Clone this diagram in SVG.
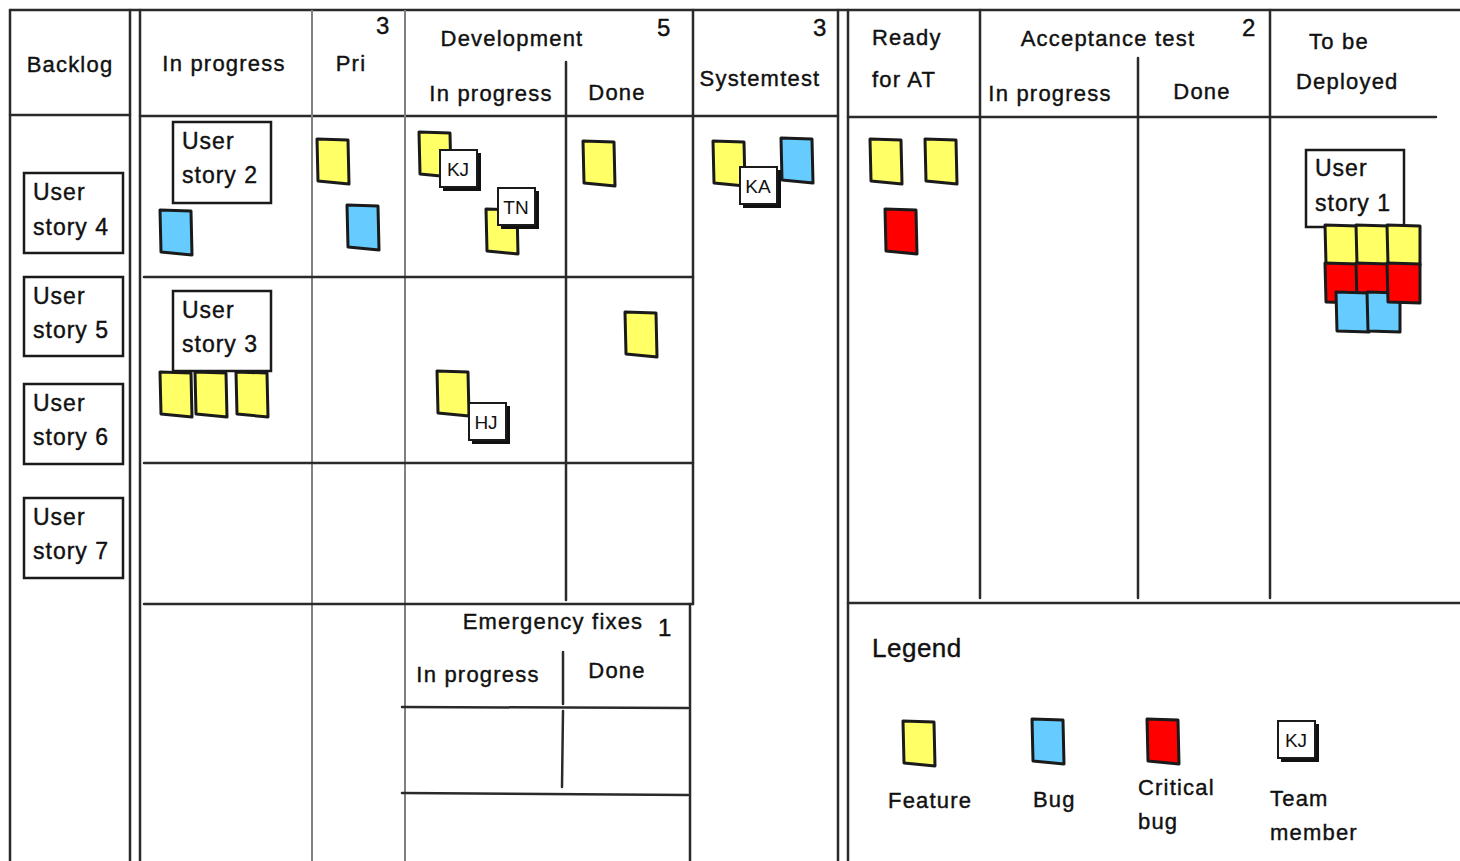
<svg xmlns="http://www.w3.org/2000/svg" xmlns:xlink="http://www.w3.org/1999/xlink" width="1460" height="861" viewBox="0 0 1460 861">
<style>
.bg{fill:#fff}
.ln{stroke:#2a2a2a;stroke-width:2.5;fill:none;stroke-linecap:round}
.lg{stroke:#808080;stroke-width:2;fill:none}
.card{fill:#fff;stroke:#1a1a1a;stroke-width:2.5}
.y{fill:#ffff66;stroke:#1a1a1a;stroke-width:3;stroke-linejoin:round}
.b{fill:#66ccff;stroke:#1a1a1a;stroke-width:3;stroke-linejoin:round}
.r{fill:#ff0000;stroke:#1a1a1a;stroke-width:3;stroke-linejoin:round}
.sh{fill:#111}
.tw{fill:#fff;stroke:#1a1a1a;stroke-width:2}
.t{font-family:"Liberation Sans",Arial,sans-serif;font-size:22px;letter-spacing:1.2px;fill:#111;stroke:#111;stroke-width:0.4}
.c{font-family:"Liberation Sans",Arial,sans-serif;font-size:23px;letter-spacing:1px;fill:#111;stroke:#111;stroke-width:0.4}
.m{text-anchor:middle}
.n{font-family:"Liberation Sans",Arial,sans-serif;font-size:24px;fill:#111;stroke:#111;stroke-width:0.4}
.tg{font-family:"Liberation Sans",Arial,sans-serif;font-size:19px;fill:#111;text-anchor:middle}
</style>
<defs>
<path id="note" d="M0,0 L31,1 L32,45 L1,42 Z"/>
<path id="noted" d="M0,0 L33,1 L33,40 L1,39 Z"/>
<g id="tag"><rect class="sh" x="3" y="3" width="38" height="38"/><rect class="tw" x="0" y="0" width="37" height="37"/></g>
</defs>
<rect class="bg" width="1460" height="861"/>

<g id="board-lines">
<line class="ln" x1="10" y1="10" x2="1460" y2="10"/>
<line class="ln" x1="10" y1="10" x2="10" y2="861"/>
<line class="ln" x1="130" y1="10" x2="130" y2="861"/>
<line class="ln" x1="140" y1="10" x2="140" y2="861"/>
<line class="ln" x1="10" y1="115" x2="130" y2="115"/>
<line class="ln" x1="140" y1="116" x2="838" y2="116"/>
<line class="lg" x1="312" y1="10" x2="312" y2="861"/>
<line class="lg" x1="405" y1="10" x2="405" y2="861"/>
<line class="ln" x1="566" y1="62" x2="566" y2="600"/>
<line class="ln" x1="693" y1="10" x2="693" y2="604"/>
<line class="ln" x1="690" y1="604" x2="690" y2="861"/>
<line class="ln" x1="144" y1="277" x2="693" y2="277"/>
<line class="ln" x1="144" y1="463" x2="693" y2="463"/>
<line class="ln" x1="144" y1="604" x2="693" y2="604"/>
<line class="ln" x1="838" y1="10" x2="838" y2="861"/>
<line class="ln" x1="848" y1="10" x2="848" y2="861"/>
<line class="ln" x1="848" y1="117" x2="1436" y2="117"/>
<line class="ln" x1="980" y1="10" x2="980" y2="598"/>
<line class="ln" x1="1138" y1="58" x2="1138" y2="598"/>
<line class="ln" x1="1270" y1="10" x2="1270" y2="598"/>
<line class="ln" x1="848" y1="603" x2="1460" y2="603"/>
<line class="ln" x1="563" y1="652" x2="563" y2="704"/>
<line class="ln" x1="563" y1="711" x2="562" y2="787"/>
<line class="ln" x1="402" y1="707" x2="688" y2="708"/>
<line class="ln" x1="402" y1="793" x2="688" y2="795"/>
</g>

<g id="headers">
<text class="t m" x="70" y="72">Backlog</text>
<text class="t m" x="224" y="71">In progress</text>
<text class="t m" x="351" y="71">Pri</text>
<text class="n" x="376" y="34">3</text>
<text class="t m" x="512" y="46">Development</text>
<text class="n" x="657" y="36">5</text>
<text class="t m" x="491" y="101">In progress</text>
<text class="t m" x="617" y="100">Done</text>
<text class="n" x="813" y="36">3</text>
<text class="t m" x="760" y="86">Systemtest</text>
<text class="t" x="872" y="45">Ready</text>
<text class="t" x="872" y="87">for AT</text>
<text class="t m" x="1108" y="46">Acceptance test</text>
<text class="n" x="1242" y="36">2</text>
<text class="t m" x="1050" y="101">In progress</text>
<text class="t m" x="1202" y="99">Done</text>
<text class="t" x="1309" y="49">To be</text>
<text class="t" x="1296" y="89">Deployed</text>
<text class="t m" x="553" y="629">Emergency fixes</text>
<text class="n" x="658" y="636">1</text>
<text class="t m" x="478" y="682">In progress</text>
<text class="t m" x="617" y="678">Done</text>
</g>

<g id="story-4"><rect class="card" x="24" y="173" width="99" height="80"/><text class="c" x="33" y="200">User</text><text class="c" x="33" y="235">story 4</text></g>
<g id="story-5"><rect class="card" x="24" y="277" width="99" height="79"/><text class="c" x="33" y="304">User</text><text class="c" x="33" y="338">story 5</text></g>
<g id="story-6"><rect class="card" x="24" y="384" width="99" height="80"/><text class="c" x="33" y="411">User</text><text class="c" x="33" y="445">story 6</text></g>
<g id="story-7"><rect class="card" x="24" y="498" width="99" height="80"/><text class="c" x="33" y="525">User</text><text class="c" x="33" y="559">story 7</text></g>

<g id="story-2"><rect class="card" x="173" y="122" width="98" height="81"/><text class="c" x="182" y="149">User</text><text class="c" x="182" y="183">story 2</text></g>
<g id="story-2-notes"><use href="#note" class="b" x="160" y="210"/><use href="#note" class="y" x="317" y="139"/><use href="#note" class="b" x="347" y="205"/></g>

<g id="story-3"><rect class="card" x="173" y="291" width="98" height="80"/><text class="c" x="182" y="318">User</text><text class="c" x="182" y="352">story 3</text></g>
<g id="story-3-notes"><use href="#note" class="y" x="160" y="372"/><use href="#note" class="y" x="195" y="372"/><use href="#note" class="y" x="236" y="372"/></g>

<g id="dev-notes">
<use href="#note" class="y" x="419" y="132"/>
<use href="#tag" x="440" y="150"/><text class="tg" x="458" y="176">KJ</text>
<use href="#note" class="y" x="486" y="209"/>
<use href="#tag" x="498" y="188"/><text class="tg" x="516" y="214">TN</text>
<use href="#note" class="y" x="583" y="141"/>
<use href="#note" class="y" x="437" y="371"/>
<use href="#tag" x="469" y="403"/><text class="tg" x="486" y="429">HJ</text>
<use href="#note" class="y" x="625" y="312"/>
</g>

<g id="systemtest-notes">
<use href="#note" class="y" x="713" y="141"/>
<use href="#note" class="b" x="781" y="138"/>
<use href="#tag" x="740" y="167"/><text class="tg" x="758" y="193">KA</text>
</g>

<g id="ready-notes">
<use href="#note" class="y" x="870" y="139"/>
<use href="#note" class="y" x="925" y="139"/>
<use href="#note" class="r" x="885" y="209"/>
</g>

<g id="story-1"><rect class="card" x="1306" y="150" width="98" height="77"/><text class="c" x="1315" y="176">User</text><text class="c" x="1315" y="211">story 1</text></g>
<g id="story-1-notes">
<use href="#noted" class="y" x="1325" y="225"/>
<use href="#noted" class="y" x="1356" y="225"/>
<use href="#noted" class="y" x="1387" y="225"/>
<use href="#noted" class="r" x="1325" y="263"/>
<use href="#noted" class="r" x="1356" y="263"/>
<use href="#noted" class="b" x="1336" y="292"/>
<use href="#noted" class="b" x="1367" y="292"/>
<use href="#noted" class="r" x="1387" y="263"/>
</g>

<g id="legend">
<text class="t" x="872" y="657" style="font-size:26px;letter-spacing:0.5px">Legend</text>
<use href="#note" class="y" x="903" y="721"/><text class="t" x="888" y="808">Feature</text>
<use href="#note" class="b" x="1032" y="719"/><text class="t" x="1033" y="807">Bug</text>
<use href="#note" class="r" x="1147" y="719"/><text class="t" x="1138" y="795">Critical</text><text class="t" x="1138" y="829">bug</text>
<use href="#tag" x="1278" y="721"/><text class="tg" x="1296" y="747">KJ</text><text class="t" x="1270" y="806">Team</text><text class="t" x="1270" y="840">member</text>
</g>
</svg>
